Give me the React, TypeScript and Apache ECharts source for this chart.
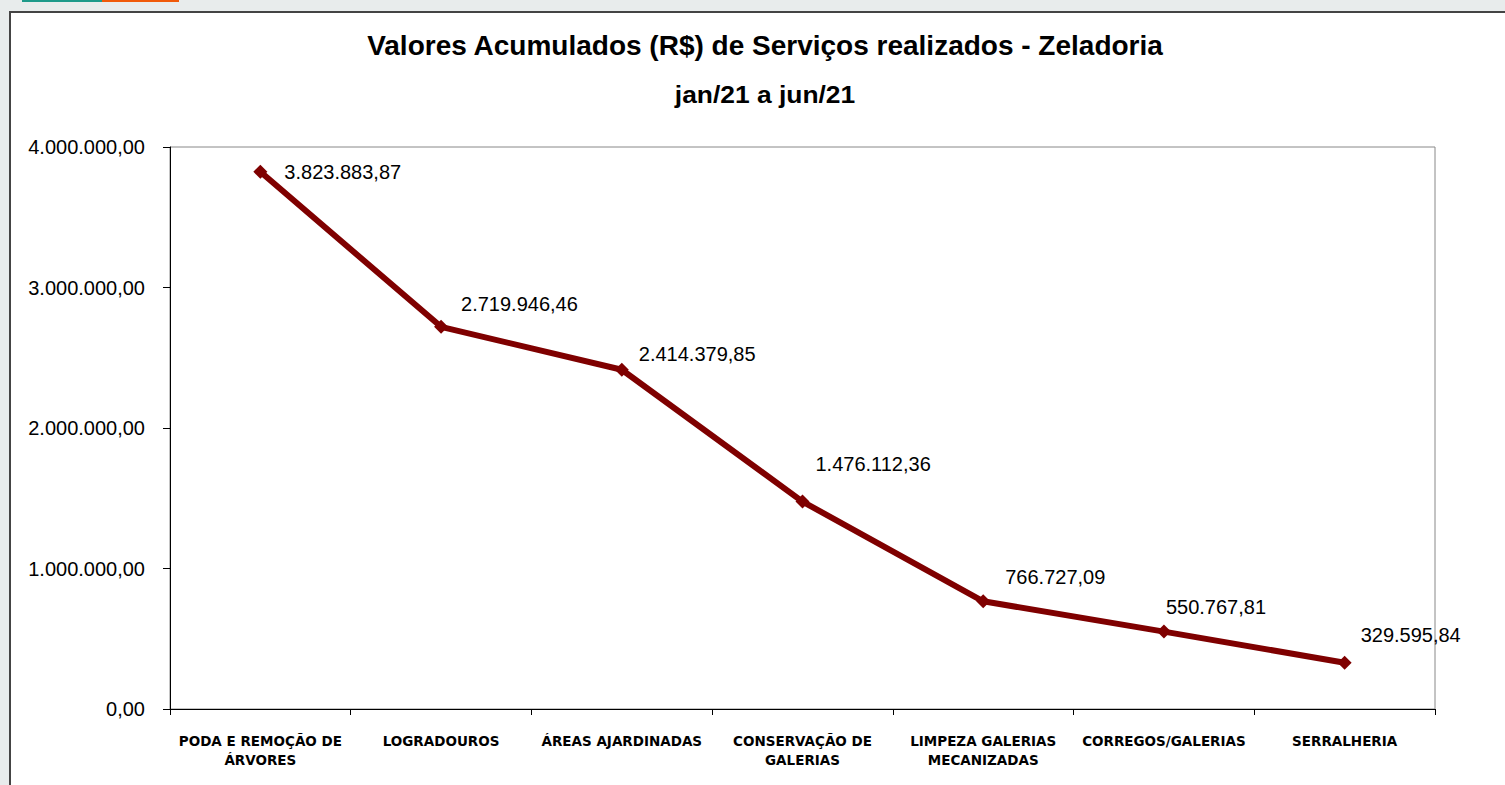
import React, { useEffect, useRef } from "react";
import * as echarts from "echarts";

const titleLine1 = "Valores Acumulados (R$) de Serviços realizados - Zeladoria";
const titleLine2 = "jan/21 a jun/21";

const categories = [
  "PODA E REMOÇÃO DE\nÁRVORES",
  "LOGRADOUROS",
  "ÁREAS AJARDINADAS",
  "CONSERVAÇÃO DE\nGALERIAS",
  "LIMPEZA GALERIAS\nMECANIZADAS",
  "CORREGOS/GALERIAS",
  "SERRALHERIA",
];

const values = [3823883.87, 2719946.46, 2414379.85, 1476112.36, 766727.09, 550767.81, 329595.84];

const yTicks = { min: 0, max: 4000000, interval: 1000000 };

// label placement (style only): [dx, dy] relative to the default "right" position
const labelOffsets: [number, number][] = [
  [12, 0],
  [8, -23],
  [5, -16],
  [1, -38],
  [10, -24],
  [-10, -25],
  [4, -28],
];

function fmtBR(v: number): string {
  const neg = v < 0;
  const abs = Math.abs(v);
  const fixed = abs.toFixed(2);
  const [intPart, dec] = fixed.split(".");
  const withDots = intPart.replace(/\B(?=(\d{3})+(?!\d))/g, ".");
  return (neg ? "-" : "") + withDots + "," + dec;
}

const ARIAL = "'Liberation Sans', Arial, sans-serif";

export default function App() {
  const ref = useRef<HTMLDivElement>(null);
  useEffect(() => {
    if (!ref.current) return;
    const chart = echarts.init(ref.current, null, { renderer: "svg" });
    chart.setOption({
      animation: false,
      backgroundColor: "#e8ecec",
      graphic: [
        { type: "rect", z: -10, shape: { x: 22, y: 0, width: 80, height: 2 }, style: { fill: "#1e9a8a" } },
        { type: "rect", z: -10, shape: { x: 102, y: 0, width: 77, height: 2 }, style: { fill: "#f05a0a" } },
        { type: "rect", z: -10, shape: { x: 10, y: 12, width: 1520, height: 800 }, style: { fill: "#ffffff", stroke: "#444444", lineWidth: 2 } },
        {
          type: "text",
          x: 765,
          y: 45,
          scaleX: 1.0,
          style: {
            text: titleLine1,
            fontFamily: ARIAL,
            fontWeight: "bold",
            fontSize: 28,
            fill: "#000",
            align: "center",
            verticalAlign: "middle",
          },
        },
        {
          type: "text",
          x: 765,
          y: 94,
          scaleX: 1.1,
          style: {
            text: titleLine2,
            fontFamily: ARIAL,
            fontWeight: "bold",
            fontSize: 24,
            fill: "#000",
            align: "center",
            verticalAlign: "middle",
          },
        },
      ],
      grid: {
        left: 170,
        top: 147,
        right: 70,
        bottom: 76,
        show: true,
        borderColor: "#888888",
        borderWidth: 1,
        backgroundColor: "#ffffff",
      },
      xAxis: {
        type: "category",
        data: categories,
        boundaryGap: true,
        axisLine: { show: true, lineStyle: { color: "#000", width: 1 } },
        axisTick: { show: true, alignWithLabel: false, length: 6, lineStyle: { color: "#000" } },
        axisLabel: {
          interval: 0,
          margin: 22,
          fontFamily: "'DejaVu Sans', sans-serif",
          fontWeight: "bold",
          fontSize: 13.5,
          lineHeight: 19,
          color: "#000",
        },
        splitLine: { show: false },
      },
      yAxis: {
        type: "value",
        min: yTicks.min,
        max: yTicks.max,
        interval: yTicks.interval,
        axisLine: { show: true, lineStyle: { color: "#000", width: 1 } },
        axisTick: { show: true, length: 7, lineStyle: { color: "#000" } },
        axisLabel: {
          margin: 25,
          fontFamily: ARIAL,
          fontSize: 20,
          color: "#000",
          formatter: (v: number) => fmtBR(v),
        },
        splitLine: { show: false },
      },
      series: [
        {
          type: "line",
          data: values.map((v, i) => ({
            value: v,
            label: { offset: labelOffsets[i] },
          })),
          lineStyle: { color: "#7f0000", width: 6 },
          itemStyle: { color: "#7f0000" },
          symbol: "diamond",
          symbolSize: 14,
          label: {
            show: true,
            position: "right",
            distance: 5,
            fontFamily: ARIAL,
            fontSize: 20,
            color: "#000",
            formatter: (p: any) => fmtBR(p.value),
          },
        },
      ],
    });
    return () => chart.dispose();
  }, []);
  return (
    <div
      ref={ref}
      style={{ position: "fixed", left: 0, top: 0, width: 1505, height: 785 }}
    />
  );
}
